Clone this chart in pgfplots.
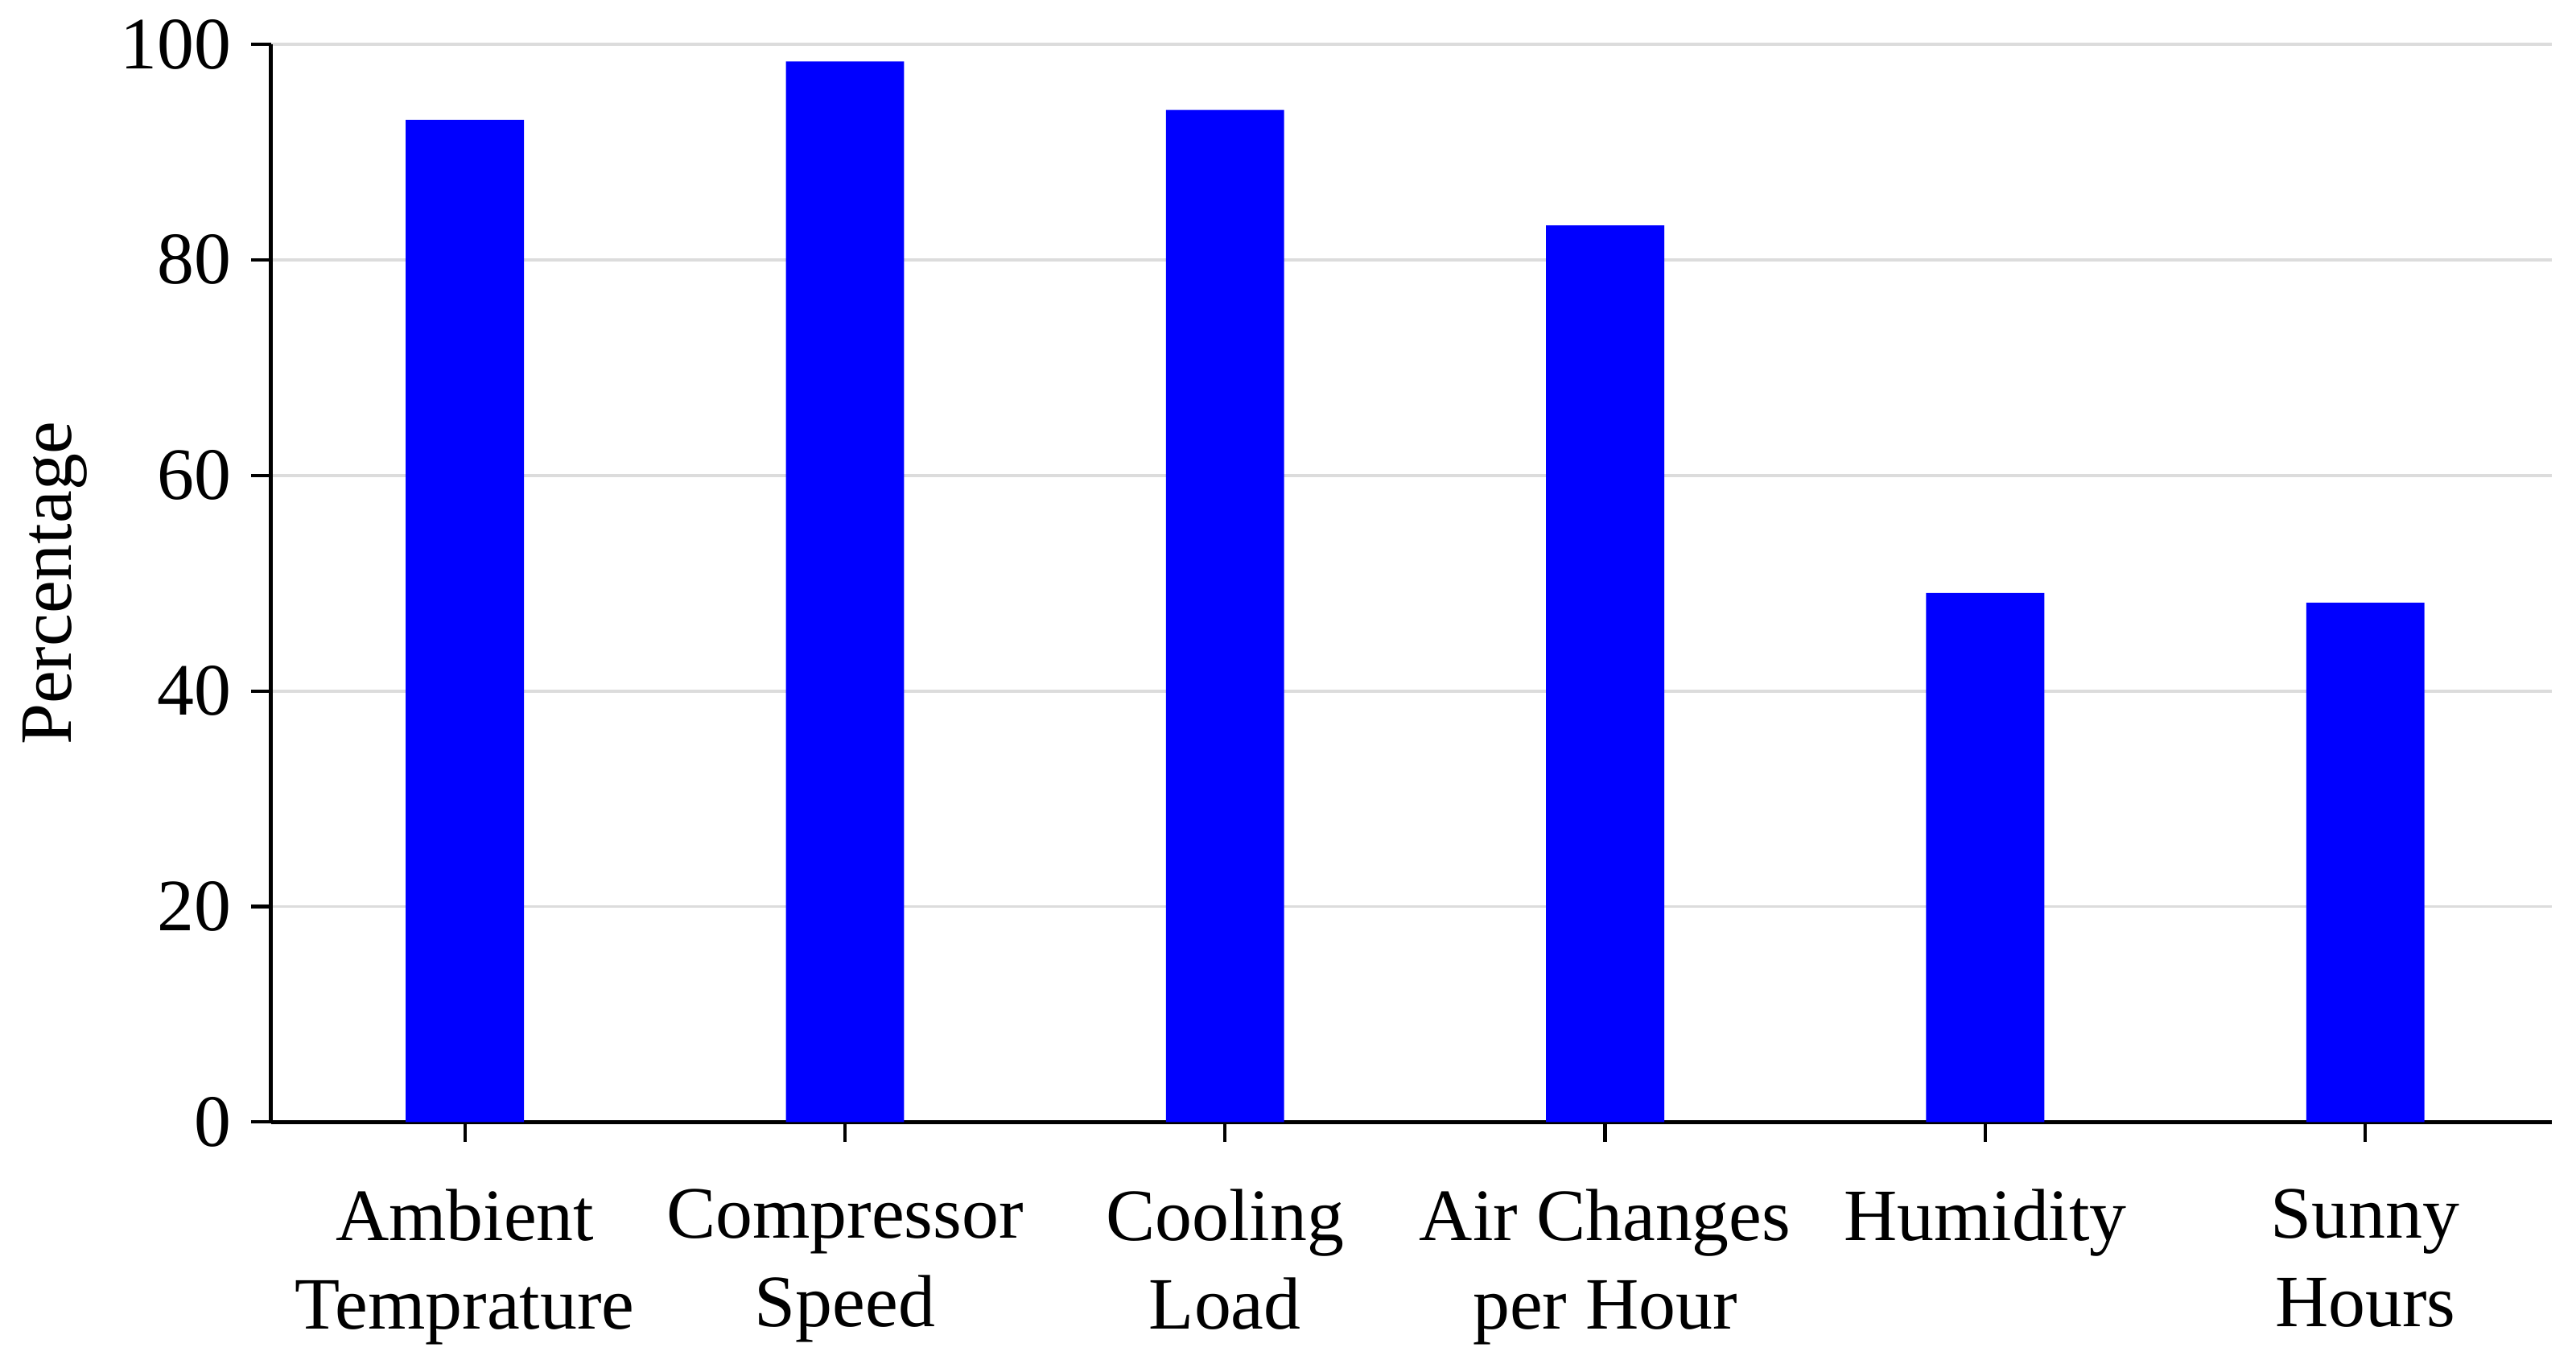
\documentclass[border=0pt]{standalone}
\usepackage{fontspec}
\setmainfont{Liberation Serif}
\usepackage{pgfplots}
\pgfplotsset{compat=1.18}
\definecolor{gridgray}{RGB}{220,220,220}
\begin{document}
\begin{tikzpicture}
\begin{axis}[
  scale only axis,
  width=401.4pt, height=189.7pt,
  xmin=-0.51, xmax=5.49,
  ymin=0, ymax=100,
  axis x line*=bottom,
  axis y line*=left,
  axis line style={line width=0.7pt},
  ytick={0,20,40,60,80,100},
  xtick={0,1,2,3,4,5},
  xticklabels={{Ambient\\Temprature},{Compressor\\Speed},{Cooling\\Load},{Air Changes\\per Hour},{Humidity\\\strut},{Sunny\\Hours}},
  tick align=outside,
  major tick length=3.5pt,
  tick style={black, line width=0.6pt},
  ymajorgrids,
  grid style={gridgray, line width=0.55pt},
  /pgf/number format/assume math mode=true,
  tick label style={font=\fontsize{13}{15.6}\selectfont},
  x tick label style={align=center, yshift=-4.8pt},
  ylabel={Percentage},
  every axis y label/.style={at={(rel axis cs:0,0.5)}, xshift=-38pt, rotate=90, anchor=center, font=\fontsize{13}{15.6}\selectfont},
  ybar, bar width=20.8pt,
]
\addplot[fill={rgb,255:red,0;green,0;blue,255}, draw=none] coordinates {
  (0,93.0) (1,98.4) (2,93.9) (3,83.2) (4,49.1) (5,48.2)
};
\coordinate (ll) at (rel axis cs:0,0);
\coordinate (ur) at (rel axis cs:1,1);
\end{axis}
\pgfresetboundingbox
\path ([shift={(-47.7pt,-42.5pt)}]ll) rectangle ([shift={(4.3pt,7.8pt)}]ur);
\end{tikzpicture}
\end{document}
